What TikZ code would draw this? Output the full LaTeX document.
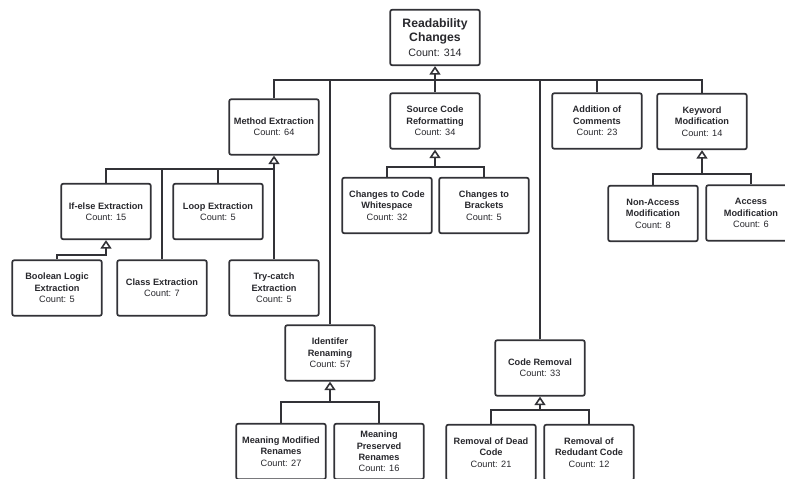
\documentclass[tikz,border=0pt]{standalone}
\usepackage{fontspec}
\setmainfont{Liberation Sans}
\usetikzlibrary{arrows.meta}
\definecolor{linegray}{RGB}{50,50,55}
\definecolor{textgray}{RGB}{40,40,45}

\begin{document}
\begin{tikzpicture}[x=1pt,y=-1pt,
    box/.style={draw=linegray,line width=1.7pt,rounded corners=2pt,fill=white,
      minimum width=89.5pt,minimum height=55.5pt,inner sep=1pt,align=center,
      text=textgray,font=\fontsize{9.2}{11.4}\selectfont\bfseries},
    rootbox/.style={box,font=\fontsize{12.2}{14.5}\selectfont\bfseries},
    link/.style={draw=linegray,line width=2pt},
    gen/.style={link,-{Triangle[open,width=11pt,length=8.5pt,line width=1.6pt]}}]

    \useasboundingbox (0,0) rectangle (785,479);
    \clip (0,0) rectangle (785,479);

    % top level
    \node[rootbox] (root) at (435,37.5) {Readability\\Changes\\\mdseries\fontsize{10.7}{14.5}\selectfont Count: 314};
    \node[box] (me) at (274,127) {Method Extraction\\\mdseries Count: 64};
    \node[box] (scr) at (435,121) {Source Code\\Reformatting\\\mdseries Count: 34};
    \node[box] (ac) at (597,121) {Addition of\\Comments\\\mdseries Count: 23};
    \node[box] (km) at (702,121.5) {Keyword\\Modification\\\mdseries Count: 14};
    \node[box] (ir) at (330,353) {Identifer\\Renaming\\\mdseries Count: 57};
    \node[box] (cr) at (540,368) {Code Removal\\\mdseries Count: 33};

    % method extraction
    \node[box] (ie) at (106,211.5) {If-else Extraction\\\mdseries Count: 15};
    \node[box] (le) at (218,211.5) {Loop Extraction\\\mdseries Count: 5};
    \node[box] (bl) at (57,288) {Boolean Logic\\Extraction\\\mdseries Count: 5};
    \node[box] (ce) at (162,288) {Class Extraction\\\mdseries Count: 7};
    \node[box] (tc) at (274,288) {Try-catch\\Extraction\\\mdseries Count: 5};

    % reformatting
    \node[box] (cw) at (387,205.5) {Changes to Code\\Whitespace\\\mdseries Count: 32};
    \node[box] (cb) at (484,205.5) {Changes to\\Brackets\\\mdseries Count: 5};

    % keyword modification
    \node[box] (na) at (653,213.5) {Non-Access\\Modification\\\mdseries Count: 8};
    \node[box] (am) at (751,213) {Access\\Modification\\\mdseries Count: 6};

    % renaming
    \node[box] (mm) at (281,451.5) {Meaning Modified\\Renames\\\mdseries Count: 27};
    \node[box] (mp) at (379,451.5) {Meaning\\Preserved\\Renames\\\mdseries Count: 16};

    % removal
    \node[box] (rd) at (491,452.5) {Removal of Dead\\Code\\\mdseries Count: 21};
    \node[box] (rr) at (589,452.5) {Removal of\\Redudant Code\\\mdseries Count: 12};

    \coordinate (rbus) at (435,80);
    \coordinate (mbus) at (274,169);
    \coordinate (sbus) at (435,167);
    \coordinate (kbus) at (702,174);
    \coordinate (ibus) at (330,402);
    \coordinate (cbus) at (540,410);
    \coordinate (ebus) at (106,255);

    \draw[gen] (scr.north) -- (root.south);
    \draw[link] (me.north) |- (rbus) -| (km.north);
    \foreach \n in {ir,cr,ac}
        \draw[link] (\n.north) -- (\n.north |- rbus);

    \draw[gen] (tc.north) -- (me.south);
    \draw[link] (ie.north) |- (mbus);
    \foreach \n in {ce,le}
        \draw[link] (\n.north) -- (\n.north |- mbus);
    \draw[gen] (bl.north) |- (ebus) -- (ie.south);

    \draw[gen] (sbus) -- (scr.south);
    \draw[link] (cw.north) |- (sbus) -| (cb.north);

    \draw[gen] (kbus) -- (km.south);
    \draw[link] (na.north) |- (kbus) -| (am.north);

    \draw[gen] (ibus) -- (ir.south);
    \draw[link] (mm.north) |- (ibus) -| (mp.north);

    \draw[gen] (cbus) -- (cr.south);
    \draw[link] (rd.north) |- (cbus) -| (rr.north);
\end{tikzpicture}
\end{document}
